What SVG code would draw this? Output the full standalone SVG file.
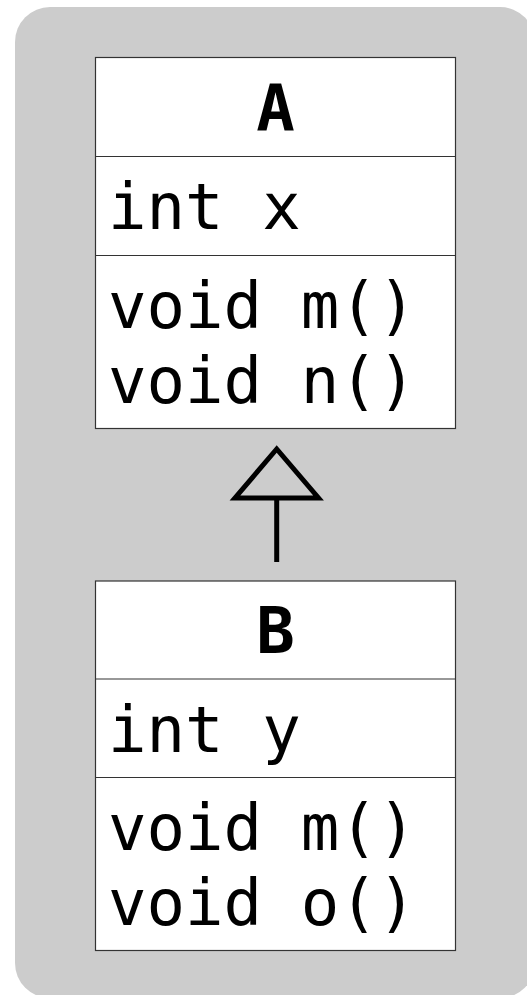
<svg xmlns="http://www.w3.org/2000/svg" width="527" height="995" viewBox="0 0 527 995">
<style>
.bg{fill:#cccccc;}
.box{fill:#ffffff;stroke:#333333;stroke-width:1.2;}
.div{stroke:#333333;stroke-width:1.2;}
.t{font-family:"DejaVu Sans Mono",monospace;font-size:64px;fill:#000000;}
.h{font-family:"DejaVu Sans Mono",monospace;font-size:64px;font-weight:bold;fill:#000000;text-anchor:middle;}
.conn{fill:none;stroke:#000000;stroke-width:5;}
</style>
<rect class="bg" x="15" y="7" width="520" height="991" rx="35" ry="35"/>
<g id="connectors">
<polygon class="conn" points="276.7,449 235,498 318.5,498"/>
<line class="conn" x1="276.7" y1="498" x2="276.7" y2="562"/>
</g>
<g id="A">
<rect class="box" x="95.5" y="57.5" width="360" height="371"/>
<line class="div" x1="95.5" y1="156.5" x2="455.5" y2="156.5"/>
<line class="div" x1="95.5" y1="255.5" x2="455.5" y2="255.5"/>
<text class="h" x="275.5" y="131">A</text>
<text class="t" x="108" y="229">int x</text>
<text class="t" x="108" y="328">void m()</text>
<text class="t" x="108" y="402.5">void n()</text>
</g>
<g id="B">
<rect class="box" x="95.5" y="581" width="360" height="369.5"/>
<line class="div" x1="95.5" y1="679" x2="455.5" y2="679"/>
<line class="div" x1="95.5" y1="777.5" x2="455.5" y2="777.5"/>
<text class="h" x="275.5" y="652.5">B</text>
<text class="t" x="108" y="751.5">int y</text>
<text class="t" x="108" y="850">void m()</text>
<text class="t" x="108" y="924.5">void o()</text>
</g>
</svg>
